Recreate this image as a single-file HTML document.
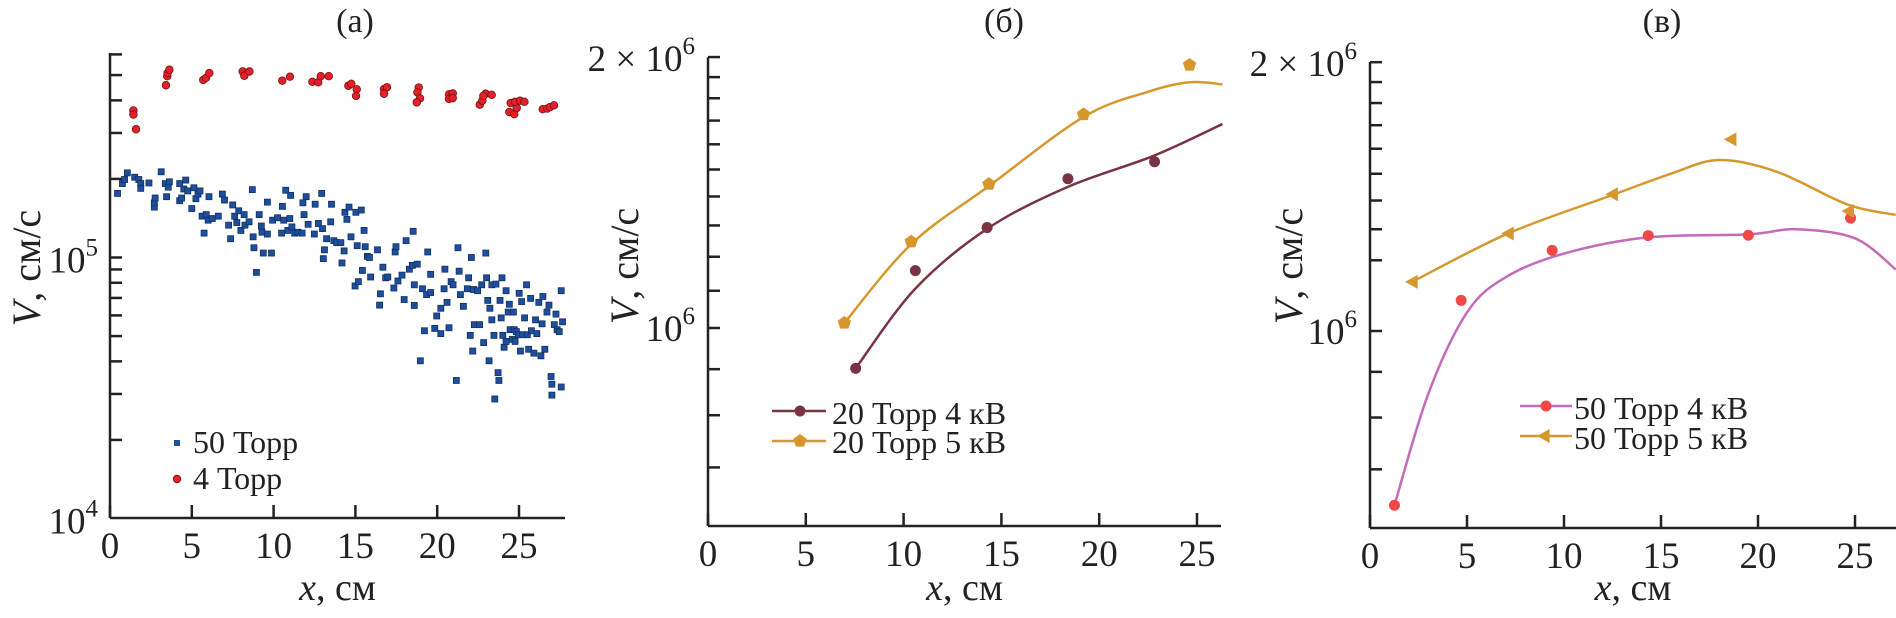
<!DOCTYPE html>
<html><head><meta charset="utf-8"><style>
body{margin:0;background:#fff;width:1896px;height:613px;overflow:hidden}
svg{font-family:"Liberation Serif",serif}
</style></head><body>
<svg id="c" width="1896" height="613" xmlns="http://www.w3.org/2000/svg"></svg>
<script>
// Panel (a) data
const aRedX=[1.43,1.43,1.59,3.42,3.5,3.52,3.63,5.7,5.87,6.07,8.11,8.21,8.52,10.53,11.0,12.37,12.73,12.88,13.37,14.57,14.75,15.08,15.04,16.75,16.93,16.75,18.87,18.79,18.95,18.75,20.72,20.95,20.72,20.95,22.6,22.76,22.96,23.33,22.82,24.41,24.71,24.86,24.49,24.76,25.06,25.33,26.45,26.73,26.9,27.14];
const aRedV=[3.66,3.53,3.1,4.57,4.95,5.09,5.24,4.79,4.88,5.09,5.16,4.97,5.16,4.76,4.93,4.71,4.69,4.95,4.95,4.55,4.63,4.41,4.16,4.42,4.49,4.24,4.48,4.29,4.07,3.93,4.22,4.25,4.05,4.08,3.85,3.99,4.24,4.2,4.16,3.61,3.54,3.74,3.91,3.95,3.99,3.95,3.7,3.72,3.77,3.83];
const aBlueX=[.46,.76,.89,1.06,1.51,1.76,1.88,1.88,2.38,2.71,2.71,2.76,3.13,3.38,3.46,3.56,3.63,4.26,4.26,4.38,4.51,4.63,4.75,5.0,5.13,5.25,5.38,5.5,5.63,5.75,5.88,6.0,6.05,6.25,6.62,6.87,7.0,7.25,7.37,7.5,7.62,7.75,7.87,8.0,8.2,8.25,8.5,8.7,8.75,8.8,8.95,9.12,9.25,9.29,9.37,9.62,9.62,9.87,9.94,10.24,10.49,10.54,10.62,10.74,10.87,10.99,11.04,11.12,11.29,11.49,11.74,11.79,11.86,11.99,12.11,12.49,12.54,12.74,12.94,12.99,13.04,13.11,13.24,13.49,13.54,13.68,13.86,14.11,14.18,14.31,14.36,14.48,14.61,14.73,14.98,15.03,15.11,15.18,15.36,15.43,15.53,15.6,15.73,15.86,15.93,16.35,16.48,16.53,16.68,16.85,16.98,17.35,17.43,17.48,17.6,17.85,17.98,18.1,18.3,18.48,18.53,18.6,18.6,18.78,18.97,19.1,19.22,19.35,19.42,19.6,19.6,19.85,19.97,20.22,20.22,20.42,20.47,20.6,20.72,20.85,20.97,21.17,21.27,21.34,21.42,21.6,21.84,21.92,22.02,22.09,22.17,22.22,22.27,22.47,22.59,22.72,22.84,22.97,23.02,23.09,23.17,23.22,23.34,23.34,23.47,23.52,23.59,23.72,23.77,23.84,23.91,23.96,24.01,24.09,24.21,24.21,24.34,24.41,24.46,24.59,24.66,24.71,24.76,24.84,24.96,25.01,25.09,25.16,25.21,25.34,25.46,25.51,25.59,25.71,25.76,25.91,26.01,26.09,26.21,26.34,26.41,26.46,26.58,26.71,26.83,26.96,27.01,27.01,27.16,27.26,27.33,27.46,27.58,27.58,27.66];
const aBlueV=[1.76,1.92,1.99,2.11,2.03,1.99,1.92,1.84,1.93,1.56,1.62,1.69,2.13,1.92,1.71,1.86,1.95,1.92,1.65,1.69,1.83,1.98,1.80,1.54,1.85,1.68,1.75,1.80,1.44,1.24,1.46,1.39,1.71,1.41,1.44,1.75,1.66,1.33,1.18,1.59,1.44,1.36,1.51,1.27,1.46,1.33,1.37,1.82,1.20,1.09,.877,1.46,1.32,1.25,1.04,1.23,1.63,1.04,1.39,1.42,1.24,1.57,1.39,1.81,1.27,1.41,1.73,1.31,1.24,1.25,1.24,1.62,1.46,1.71,1.34,1.23,1.60,1.35,1.76,1.29,.99,1.07,1.18,1.37,1.60,1.16,1.14,1.14,.953,1.06,1.49,1.40,1.56,1.20,.778,1.49,1.11,.808,1.52,.892,1.27,1.10,1.01,1.0,.842,1.07,.657,.726,.918,.836,.842,.764,1.05,1.10,.813,.856,.690,1.16,.902,.933,1.26,.655,.786,.943,.402,.759,.524,.721,1.05,.734,.862,.535,.597,.639,.511,.759,.902,.673,.538,.808,.786,.338,1.09,.886,.721,.650,.759,.836,.503,1.0,.438,.754,.553,.746,.553,.786,.472,1.04,.836,.685,.402,.639,.786,.577,.503,.287,.791,.362,.338,.685,.587,.836,.503,.453,.746,.477,.618,.662,.529,.486,.618,.529,.477,.520,.506,.729,.438,.678,.506,.587,.786,.506,.445,.697,.524,.430,.577,.511,.673,.420,.557,.709,.445,.618,.657,.350,.327,.297,.553,.607,.529,.520,.746,.319,.567];
// Panel (б) data (V in 1e6)
const bP4X=[7.55,10.6,14.27,18.4,22.83], bP4V=[0.902,1.158,1.293,1.465,1.53];
const bP5X=[6.97,10.39,14.36,19.2,24.62], bP5V=[1.013,1.247,1.445,1.727,1.96];
const bF4X=[7.55,10.6,14.3,18.4,22.8,26.3], bF4V=[0.902,1.106,1.29,1.435,1.554,1.685];
const bF5X=[6.97,10.4,14.4,19.2,22.5,24.6,26.3], bF5V=[1.013,1.24,1.44,1.716,1.83,1.875,1.865];
// Panel (в) data
const cP4X=[1.26,4.7,9.39,14.34,19.5,24.77], cP4V=[0.638,1.082,1.231,1.279,1.28,1.338];
const cP5X=[2.17,7.12,12.49,18.6,24.66], cP5V=[1.135,1.286,1.423,1.639,1.362];
const cF4X=[1.26,3,5,7,10,14.3,19.5,22,25,27.1], cF4V=[0.638,0.85,1.049,1.149,1.221,1.273,1.283,1.3,1.27,1.172];
const cF5X=[2.17,7.12,12.5,15.5,18,21,24.6,27.1], cF5V=[1.135,1.286,1.42,1.5,1.554,1.507,1.386,1.349];
const xTicks=[0,5,10,15,20,25];

const NS="http://www.w3.org/2000/svg", svg=document.getElementById('c');
function el(t,a,p){const e=document.createElementNS(NS,t);for(const k in a)e.setAttribute(k,a[k]);(p||svg).appendChild(e);return e;}
function mkAxes(g,P,minorVals,majorLabels){
  el('line',{x1:P.x0,y1:P.yb,x2:P.x0,y2:P.yt,stroke:'#222','stroke-width':2.5},g);
  el('line',{x1:P.x0,y1:P.yb,x2:P.xr,y2:P.yb,stroke:'#222','stroke-width':2.5},g);
  xTicks.forEach(t=>{const x=P.sx(t);
    const tk=el('line',{x1:x,y1:P.yb,x2:x,y2:P.yb-13,stroke:'#222','stroke-width':2.5},g);
    
    const tx=el('text',{x:x,y:P.yb+40,'font-size':37,'text-anchor':'middle',fill:'#222'},g);tx.textContent=t;
    });
  minorVals.forEach(v=>{const y=P.sy(v);
    const tk=el('line',{x1:P.x0,y1:y,x2:P.x0+12,y2:y,stroke:'#222','stroke-width':2.5},g);
    });
  majorLabels.forEach(m=>{const y=P.sy(m.v);
    const tx=el('text',{x:m.x,y:y+m.dy,'font-size':37,'text-anchor':'end',fill:'#222'},g);
    tx.innerHTML=m.pre+'10<tspan font-size="25" dy="-17">'+m.exp+'</tspan>';
    });
  const xl=el('text',{x:(P.x0+P.xr)/2,y:600,'font-size':38,'text-anchor':'middle',fill:'#222'},g);
  xl.innerHTML='<tspan font-style="italic">x</tspan>, см';
  
  const yl=el('text',{x:0,y:0,'font-size':40,'text-anchor':'middle',fill:'#222',transform:`translate(${P.ylx},${P.yly}) rotate(-90)`},g);
  yl.innerHTML='<tspan font-style="italic">V</tspan>, см/с';
  
  const tt=el('text',{x:P.tx,y:32,'font-size':34,'text-anchor':'middle',fill:'#222'},g);tt.textContent=P.title;
  
}
function curve(xs,vs,P){const pts=xs.map((x,i)=>[P.sx(x),P.sy(vs[i])]);
  let d='M'+pts[0][0]+','+pts[0][1];
  for(let i=0;i<pts.length-1;i++){const p0=pts[Math.max(0,i-1)],p1=pts[i],p2=pts[i+1],p3=pts[Math.min(pts.length-1,i+2)];
    d+=` C${p1[0]+(p2[0]-p0[0])/6},${p1[1]+(p2[1]-p0[1])/6} ${p2[0]-(p3[0]-p1[0])/6},${p2[1]-(p3[1]-p1[1])/6} ${p2[0]},${p2[1]}`;}
  return d;}
function pent(cx,cy,r){let s='';for(let k=0;k<5;k++){const a=-Math.PI/2+k*2*Math.PI/5;s+=(cx+r*Math.cos(a))+','+(cy+r*Math.sin(a))+' ';}return s;}
function triL(cx,cy,r){return `${cx-r},${cy} ${cx+r*0.8},${cy-r} ${cx+r*0.8},${cy+r}`;}

// ---------- Panel a
{const g=el('g',{});
 const P={x0:110,xr:565,yb:518,yt:53,sx:x=>110+x*16.36,sy:v=>257.5-Math.log10(v/1e5)*261,ylx:40,yly:268,tx:355,title:'(a)'};
 const minor=[];[2,3,4,5,6,7,8,9].forEach(k=>minor.push(k*1e4));[2,3,4,5,6].forEach(k=>minor.push(k*1e5));minor.push(1e5);
 mkAxes(g,P,minor,[{v:1e5,x:98,dy:15,pre:'',exp:'5'},{v:1e4,x:98,dy:15,pre:'',exp:'4'}]);
 aBlueX.forEach((x,i)=>{const r=el('rect',{x:P.sx(x)-3,y:P.sy(aBlueV[i]*1e5)-3,width:6,height:6,fill:'#1d4f9e',stroke:'#12305e','stroke-width':0.8},g);
   });
 aRedX.forEach((x,i)=>{const c=el('circle',{cx:P.sx(x),cy:P.sy(aRedV[i]*1e5),r:3.8,fill:'#e4202a',stroke:'#7a1010','stroke-width':0.8},g);
   });
 const l1=el('g',{},g);
 el('rect',{x:174,y:440,width:6,height:6,fill:'#1d4f9e'},l1);
 const t1=el('text',{x:193,y:453,'font-size':32,fill:'#222'},l1);t1.textContent='50 Торр';
 const l2=el('g',{},g);
 el('circle',{cx:177,cy:479,r:3.8,fill:'#e4202a',stroke:'#7a1010','stroke-width':0.8},l2);
 const t2=el('text',{x:193,y:489,'font-size':32,fill:'#222'},l2);t2.textContent='4 Торр';
}
// ---------- Panel b
{const g=el('g',{});
 const P={x0:708,xr:1221,yb:526,yt:57.4,sx:x=>708+x*19.56,sy:v=>328-Math.log10(v/1e6)*900,ylx:638,yly:266,tx:1004,title:'(б)'};
 const minor=[0.7e6,0.8e6,0.9e6];for(let k=11;k<=20;k++)minor.push(k*1e5);minor.push(1e6);
 mkAxes(g,P,minor,[{v:2e6,x:695,dy:14,pre:'2 × ',exp:'6'},{v:1e6,x:695,dy:13,pre:'',exp:'6'}]);
 const c4=el('path',{d:curve(bF4X,bF4V.map(v=>v*1e6),P),fill:'none',stroke:'#7a3343','stroke-width':2.5},g);
 
 const c5=el('path',{d:curve(bF5X,bF5V.map(v=>v*1e6),P),fill:'none',stroke:'#d6982c','stroke-width':2.5},g);
 
 bP4X.forEach((x,i)=>{const c=el('circle',{cx:P.sx(x),cy:P.sy(bP4V[i]*1e6),r:5.5,fill:'#7a3343'},g);
   });
 bP5X.forEach((x,i)=>{const c=el('polygon',{points:pent(P.sx(x),P.sy(bP5V[i]*1e6),7),fill:'#d6982c'},g);
   });
 const l1=el('g',{},g);
 el('line',{x1:772,y1:411,x2:826,y2:411,stroke:'#7a3343','stroke-width':2.5},l1);
 el('circle',{cx:800,cy:411,r:5.5,fill:'#7a3343'},l1);
 const t1=el('text',{x:832,y:424,'font-size':32,fill:'#222'},l1);t1.textContent='20 Торр 4 кВ';
 const l2=el('g',{},g);
 el('line',{x1:772,y1:441,x2:826,y2:441,stroke:'#d6982c','stroke-width':2.5},l2);
 el('polygon',{points:pent(800,441,7),fill:'#d6982c'},l2);
 const t2=el('text',{x:832,y:453,'font-size':32,fill:'#222'},l2);t2.textContent='20 Торр 5 кВ';
}
// ---------- Panel c
{const g=el('g',{});
 const P={x0:1370,xr:1896,yb:528,yt:62,sx:x=>1370+x*19.4,sy:v=>331-Math.log10(v/1e6)*893,ylx:1302,yly:266,tx:1662,title:'(в)'};
 const minor=[0.7e6,0.8e6,0.9e6];for(let k=12;k<=20;k++)minor.push(k*1e5);minor.push(1e6);
 mkAxes(g,P,minor,[{v:2e6,x:1357,dy:14,pre:'2 × ',exp:'6'},{v:1e6,x:1357,dy:13,pre:'',exp:'6'}]);
 const c4=el('path',{d:curve(cF4X,cF4V.map(v=>v*1e6),P),fill:'none',stroke:'#c36bbb','stroke-width':2.5},g);
 
 const c5=el('path',{d:curve(cF5X,cF5V.map(v=>v*1e6),P),fill:'none',stroke:'#d6982c','stroke-width':2.5},g);
 
 cP4X.forEach((x,i)=>{const c=el('circle',{cx:P.sx(x),cy:P.sy(cP4V[i]*1e6),r:5.5,fill:'#f04848'},g);
   });
 cP5X.forEach((x,i)=>{const c=el('polygon',{points:triL(P.sx(x),P.sy(cP5V[i]*1e6),7),fill:'#d6982c'},g);
   });
 const l1=el('g',{},g);
 el('line',{x1:1520,y1:406,x2:1572,y2:406,stroke:'#c36bbb','stroke-width':2.5},l1);
 el('circle',{cx:1546,cy:406,r:5.5,fill:'#f04848'},l1);
 const t1=el('text',{x:1574,y:419,'font-size':32,fill:'#222'},l1);t1.textContent='50 Торр 4 кВ';
 const l2=el('g',{},g);
 el('line',{x1:1520,y1:436,x2:1572,y2:436,stroke:'#d6982c','stroke-width':2.5},l2);
 el('polygon',{points:triL(1544,436,7),fill:'#d6982c'},l2);
 const t2=el('text',{x:1574,y:449,'font-size':32,fill:'#222'},l2);t2.textContent='50 Торр 5 кВ';
}
</script>
</body></html>
